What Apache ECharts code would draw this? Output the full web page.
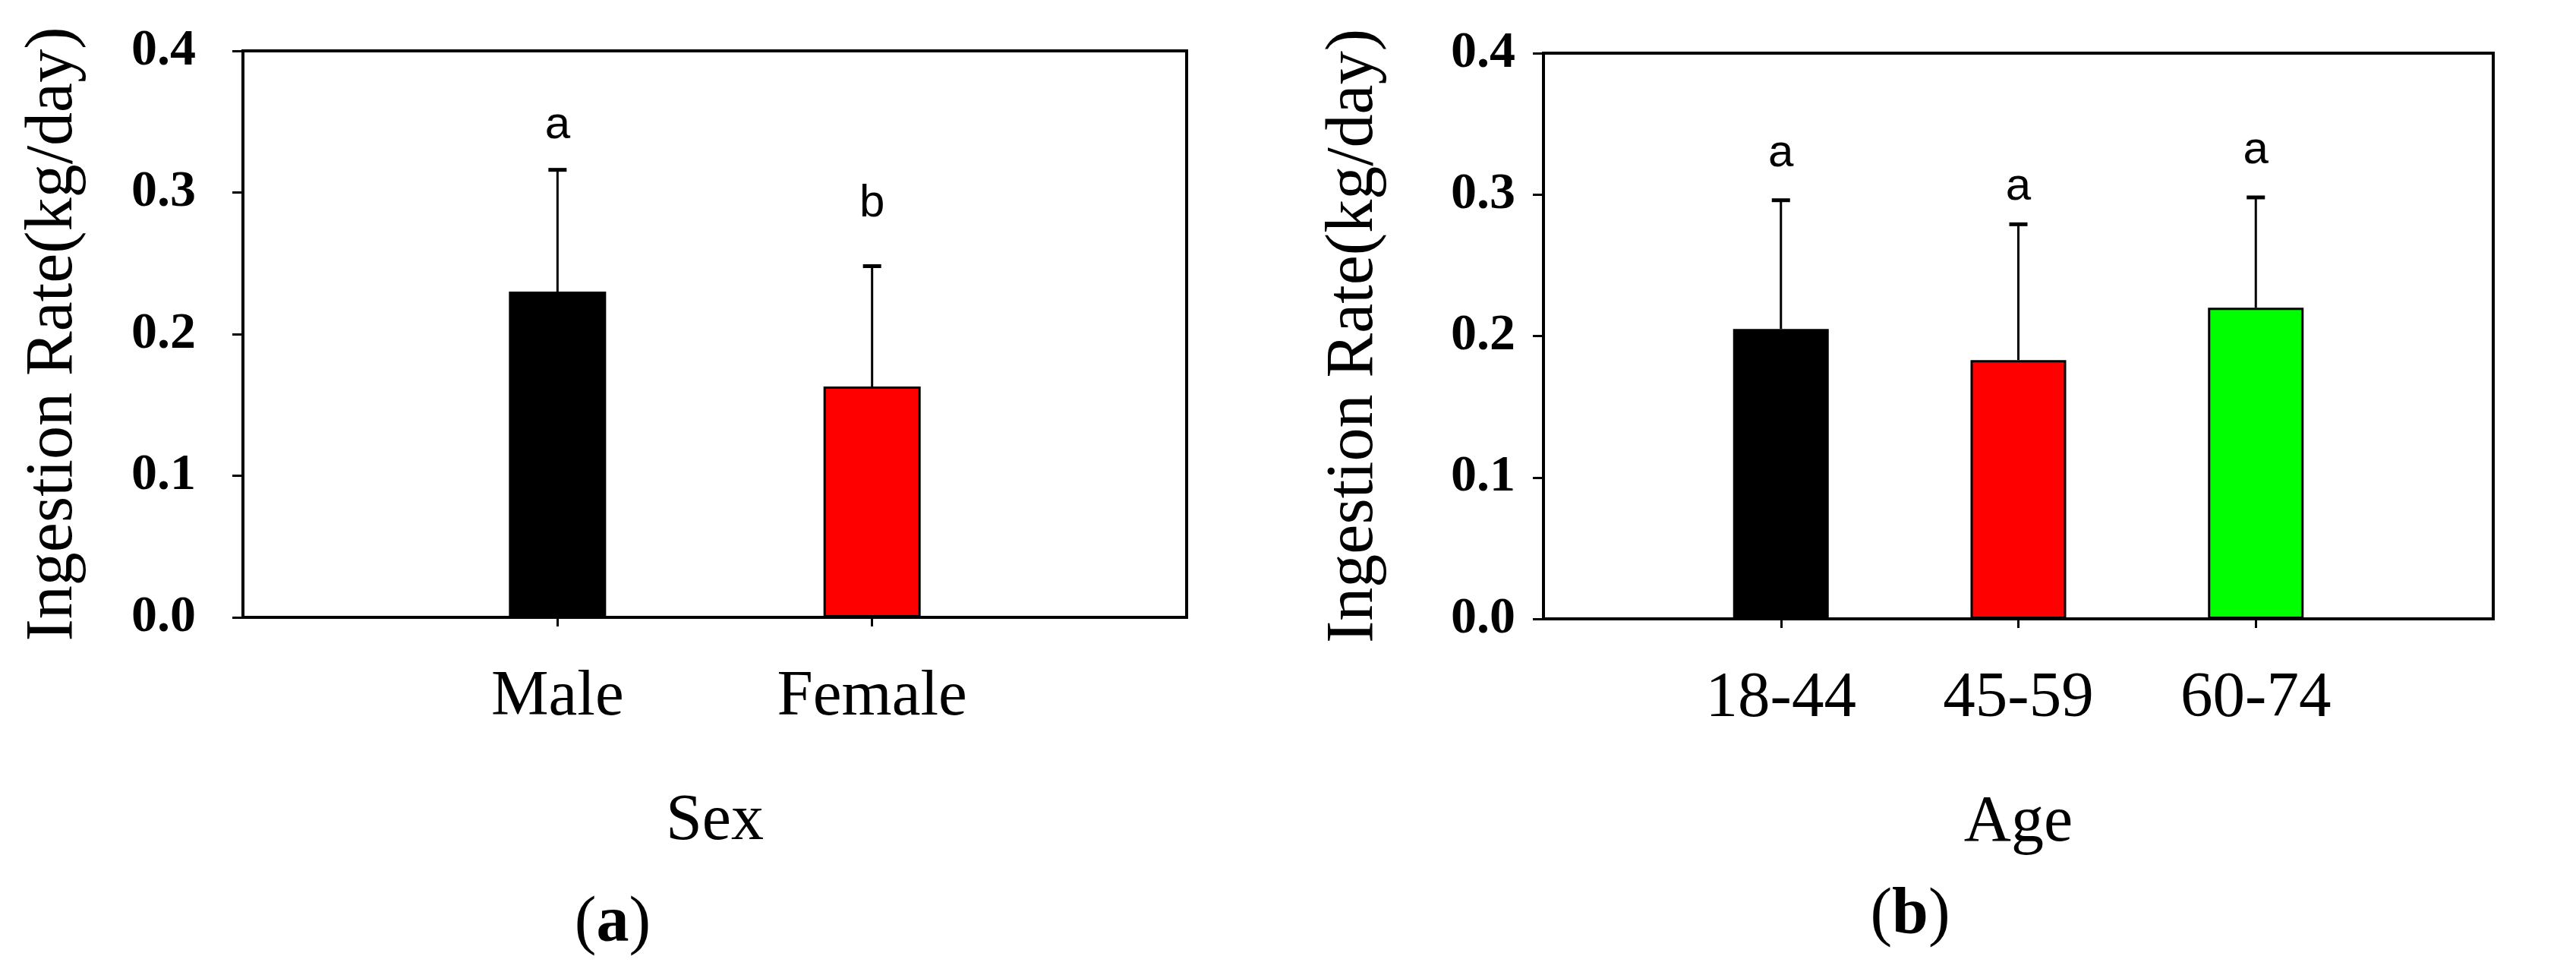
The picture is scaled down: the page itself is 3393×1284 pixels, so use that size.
<!DOCTYPE html>
<html>
<head>
<meta charset="utf-8">
<script src="https://cdn.jsdelivr.net/npm/echarts@6/dist/echarts.min.js"></script>
<style>
  html, body { margin: 0; padding: 0; background: #fff; }
  #chart { width: 3393px; height: 1284px; }
</style>
</head>
<body>
<div id="chart"></div>
<script>
// data
var sexCats = ['Male', 'Female'];
var sexMean = [0.230, 0.163];
var sexSD = [0.086, 0.085];
var sexLetters = ['a', 'b'];
var sexLetterY = [0.347, 0.292];

var ageCats = ['18-44', '45-59', '60-74'];
var ageMean = [0.205, 0.183, 0.220];
var ageSD = [0.091, 0.096, 0.078];
var ageLetters = ['a', 'a', 'a'];
var ageLetterY = [0.329, 0.305, 0.331];

var yTicks = [0, 0.1, 0.2, 0.3, 0.4];

var sexColors = ['#000000', '#ff0000'];
var ageColors = ['#000000', '#ff0000', '#00ff00'];

var chart = echarts.init(document.getElementById('chart'));
var serif = 'Liberation Serif';

// pad categories with an empty slot at each end so the bars sit at 1/3, 2/3 (and 1/4, 2/4, 3/4)
function padCats(c) { return [''].concat(c).concat(['']); }
function barData(vals, colors) {
    var d = ['-'];
    vals.forEach(function (v, i) {
        d.push({ value: v, itemStyle: { color: colors[i] } });
    });
    d.push('-');
    return d;
}
function errData(means, sds, letterY) {
    return means.map(function (m, i) { return [i + 1, m, m + sds[i], letterY[i]]; });
}
function errRender(letters) {
    return function (params, api) {
        var base = api.coord([api.value(0), api.value(1)]);
        var top = api.coord([api.value(0), api.value(2)]);
        var lp = api.coord([api.value(0), api.value(3)]);
        return {
            type: 'group',
            children: [
                { type: 'line', shape: { x1: base[0], y1: base[1], x2: top[0], y2: top[1] },
                  style: { stroke: '#000', lineWidth: 3 } },
                { type: 'line', shape: { x1: top[0] - 12, y1: top[1], x2: top[0] + 12, y2: top[1] },
                  style: { stroke: '#000', lineWidth: 5 } },
                { type: 'text', x: lp[0], y: lp[1],
                  style: { text: letters[params.dataIndex], fill: '#000',
                           font: '60px "Liberation Sans"', align: 'center', verticalAlign: 'middle',
                           textAlign: 'center', textVerticalAlign: 'middle' } }
            ]
        };
    };
}
function tickFilter(idx, val) { return val !== ''; }

function xAxis(gi, cats, name) {
    return {
        gridIndex: gi, type: 'category', data: padCats(cats), boundaryGap: false,
        axisLine: { lineStyle: { color: '#000', width: 4 } },
        axisTick: { show: true, interval: tickFilter, length: 12, lineStyle: { color: '#000', width: 3 } },
        axisLabel: { interval: 0, margin: 63, color: '#000', fontFamily: serif, fontSize: 85 },
        splitLine: { show: false },
        name: name, nameLocation: 'middle', nameGap: 226,
        nameTextStyle: { color: '#000', fontFamily: serif, fontSize: 86 }
    };
}
function yAxis(gi, margin) {
    return {
        gridIndex: gi, type: 'value', min: yTicks[0], max: yTicks[yTicks.length - 1], interval: 0.1,
        axisLine: { show: true, lineStyle: { color: '#000', width: 4 } },
        axisTick: { show: true, length: 14, lineStyle: { color: '#000', width: 3 } },
        axisLabel: { margin: margin, color: '#000', fontFamily: serif, fontWeight: 'bold', fontSize: 68,
                     formatter: function (v) { return v.toFixed(1); } },
        splitLine: { show: false },
        name: 'Ingestion Rate(kg/day)', nameLocation: 'middle', nameRotate: 90, nameGap: 205,
        nameTextStyle: { color: '#000', fontFamily: serif, fontSize: 88 }
    };
}

var option = {
    animation: false,
    backgroundColor: '#fff',
    grid: [
        { left: 320, top: 67, width: 1243, height: 746, show: true, borderColor: '#000', borderWidth: 4 },
        { left: 2033, top: 70, width: 1251, height: 745, show: true, borderColor: '#000', borderWidth: 4 }
    ],
    xAxis: [xAxis(0, sexCats, 'Sex'), xAxis(1, ageCats, 'Age')],
    yAxis: [yAxis(0, 62), yAxis(1, 37)],
    series: [
        { type: 'bar', xAxisIndex: 0, yAxisIndex: 0, barWidth: 128, data: barData(sexMean, sexColors),
          itemStyle: { borderColor: '#000', borderWidth: 3 } },
        { type: 'bar', xAxisIndex: 1, yAxisIndex: 1, barWidth: 126, data: barData(ageMean, ageColors),
          itemStyle: { borderColor: '#000', borderWidth: 3 } },
        { type: 'custom', xAxisIndex: 0, yAxisIndex: 0, z: 5, data: errData(sexMean, sexSD, sexLetterY),
          renderItem: errRender(sexLetters) },
        { type: 'custom', xAxisIndex: 1, yAxisIndex: 1, z: 5, data: errData(ageMean, ageSD, ageLetterY),
          renderItem: errRender(ageLetters) }
    ],
    graphic: [
        { type: 'text', x: 807, y: 1217,
          style: { text: '({b|a})', fill: '#000', font: '86px "Liberation Serif"',
                   align: 'center', verticalAlign: 'middle', textAlign: 'center', textVerticalAlign: 'middle',
                   rich: { b: { fontFamily: serif, fontSize: 86, fontWeight: 'bold', fill: '#000' } } } },
        { type: 'text', x: 2516, y: 1206,
          style: { text: '({b|b})', fill: '#000', font: '86px "Liberation Serif"',
                   align: 'center', verticalAlign: 'middle', textAlign: 'center', textVerticalAlign: 'middle',
                   rich: { b: { fontFamily: serif, fontSize: 86, fontWeight: 'bold', fill: '#000' } } } }
    ]
};

chart.setOption(option);
</script>
</body>
</html>
